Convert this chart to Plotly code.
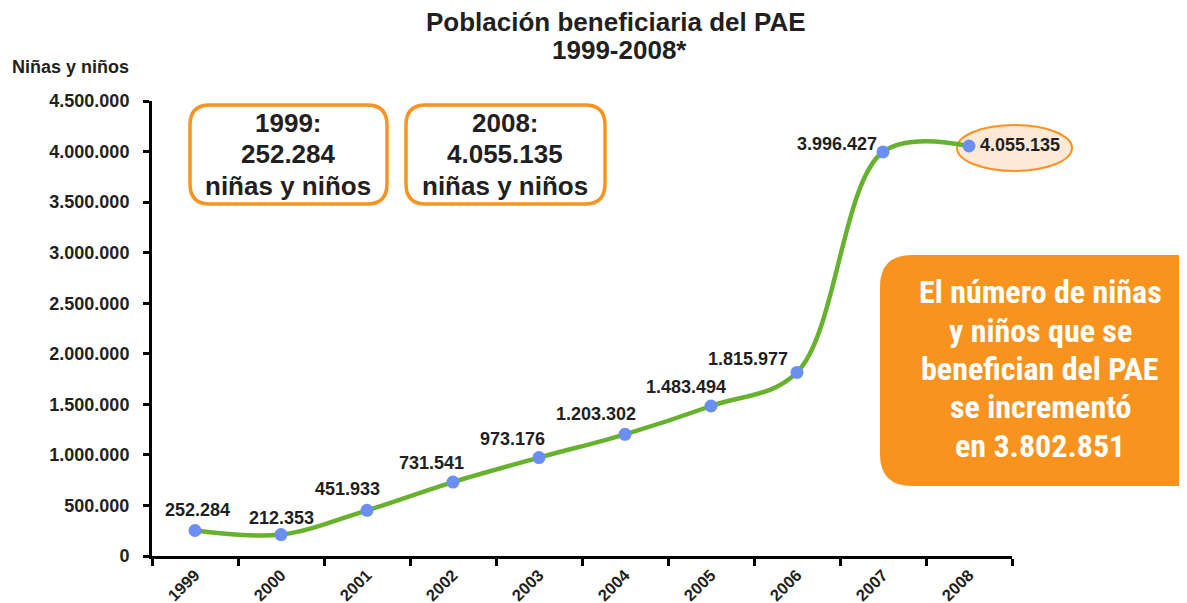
import plotly.graph_objects as go

years = ["1999", "2000", "2001", "2002", "2003", "2004", "2005", "2006", "2007", "2008"]
values = [252284, 212353, 451933, 731541, 973176, 1203302, 1483494, 1815977, 3996427, 4055135]
y_ticks = [0, 500000, 1000000, 1500000, 2000000, 2500000, 3000000, 3500000, 4000000, 4500000]
# label offsets (pixels) relative to each point
label_dx = [2, 0, -20, -22, -27, -29, -25, -49, -46, 51]
label_dy = [20, 17, 21, 19, 19, 20, 19, 13, 8, 1]

OFF = 8                      # default page margin of the html body
W, H = 1187 - OFF, 603 - OFF
L, R, T, B = 152, 1012, 101, 556   # plot area in screen pixels

def px(x):
    return (x - L) / (R - L)

def py(y):
    return (B - y) / (B - T)

def fmt(v):
    return f"{v:,}".replace(",", ".")

def rrect(x0, y0, x1, y1, r):
    def P(x, y):
        return f"{px(x):.5f},{py(y):.5f}"
    return (f"M {P(x0 + r, y0)} L {P(x1 - r, y0)} Q {P(x1, y0)} {P(x1, y0 + r)} "
            f"L {P(x1, y1 - r)} Q {P(x1, y1)} {P(x1 - r, y1)} "
            f"L {P(x0 + r, y1)} Q {P(x0, y1)} {P(x0, y1 - r)} "
            f"L {P(x0, y0 + r)} Q {P(x0, y0)} {P(x0 + r, y0)} Z")

FONT = "Liberation Sans, Arial, Helvetica, sans-serif"
NARROW = "Liberation Sans Narrow, Arial Narrow, Roboto Condensed, sans-serif"
TXT = "#231f20"
ORANGE = "#f7931e"

xs = list(range(len(years)))

fig = go.Figure()
fig.add_trace(go.Scatter(
    x=xs, y=values, mode="lines+markers",
    line=dict(color="#66b22e", width=4.5, shape="spline", smoothing=1),
    marker=dict(color="#6b8ef1", size=13),
    hoverinfo="skip", showlegend=False,
))

annotations = []
for xi, v, dx, dy in zip(xs, values, label_dx, label_dy):
    annotations.append(dict(
        x=xi, y=v, xref="x", yref="y", text=f"<b>{fmt(v)}</b>", showarrow=False,
        xanchor="center", yanchor="middle",
        xshift=dx, yshift=dy, font=dict(family=FONT, size=18, color=TXT),
    ))

def label(text, x, y, size, color=TXT, family=FONT, xanchor="center"):
    annotations.append(dict(
        x=px(x), y=py(y), xref="paper", yref="paper", showarrow=False,
        xanchor=xanchor, yanchor="middle", text=f"<b>{text}</b>",
        font=dict(family=family, size=size, color=color),
    ))

# title
label("Población beneficiaria del PAE", 616, 22, 26)
label("1999-2008*", 619, 50, 26)
# y axis caption
label("Niñas y niños", 10, 67, 18, xanchor="left")
# boxes
for i, t in enumerate(["1999:", "252.284", "niñas y niños"]):
    label(t, 288, 122.5 + 31.7 * i, 26)
for i, t in enumerate(["2008:", "4.055.135", "niñas y niños"]):
    label(t, 505, 122.5 + 31.7 * i, 26)
# orange callout
for i, t in enumerate(["El número de niñas", "y niños que se", "benefician del PAE",
                       "se incrementó", "en 3.802.851"]):
    label(t, 1040, 303.3 + 38.3 * i - 11, 32, color="white", family=NARROW)

shapes = [
    dict(type="path", xref="paper", yref="paper", path=rrect(190, 105, 387, 204, 20),
         line=dict(color=ORANGE, width=3.5), fillcolor="white", layer="below"),
    dict(type="path", xref="paper", yref="paper", path=rrect(406, 105, 605, 204, 20),
         line=dict(color=ORANGE, width=3.5), fillcolor="white", layer="below"),
    dict(type="path", xref="paper", yref="paper", path=rrect(880, 255, 1215, 486, 32),
         line=dict(color=ORANGE, width=0), fillcolor=ORANGE, layer="below"),
    dict(type="circle", xref="paper", yref="paper",
         x0=px(957), x1=px(1072), y0=py(125), y1=py(171),
         line=dict(color=ORANGE, width=2), fillcolor="#fde9d6", layer="below"),
]

fig.update_layout(
    width=W, height=H,
    margin=dict(l=L - OFF, r=1187 - R, t=T - OFF, b=603 - B, pad=0),
    paper_bgcolor="white", plot_bgcolor="rgba(0,0,0,0)",
    font=dict(family=FONT, color=TXT),
    annotations=annotations, shapes=shapes,
    xaxis=dict(
        range=[-0.5, 9.5], showgrid=False, zeroline=False, automargin=False,
        showline=True, linecolor="black", linewidth=3,
        tickvals=xs, ticktext=[f"<b>{y}</b>" for y in years], ticks="",
        minor=dict(tick0=-0.5, dtick=1, ticks="outside", ticklen=7,
                   tickwidth=2.5, tickcolor="black", showgrid=False),
        tickangle=-45, tickfont=dict(family=FONT, size=16.5, color=TXT),
    ),
    yaxis=dict(
        range=[0, 4500000], showgrid=False, zeroline=False, automargin=False,
        showline=True, linecolor="black", linewidth=3,
        ticks="outside", ticklen=6, tickwidth=2.5, tickcolor="black",
        tickvals=y_ticks, ticktext=[f"<b>{fmt(v)}</b>" for v in y_ticks],
        ticklabelstandoff=10,
        tickfont=dict(family=FONT, size=18, color=TXT),
    ),
)

fig.write_html("out.html")
